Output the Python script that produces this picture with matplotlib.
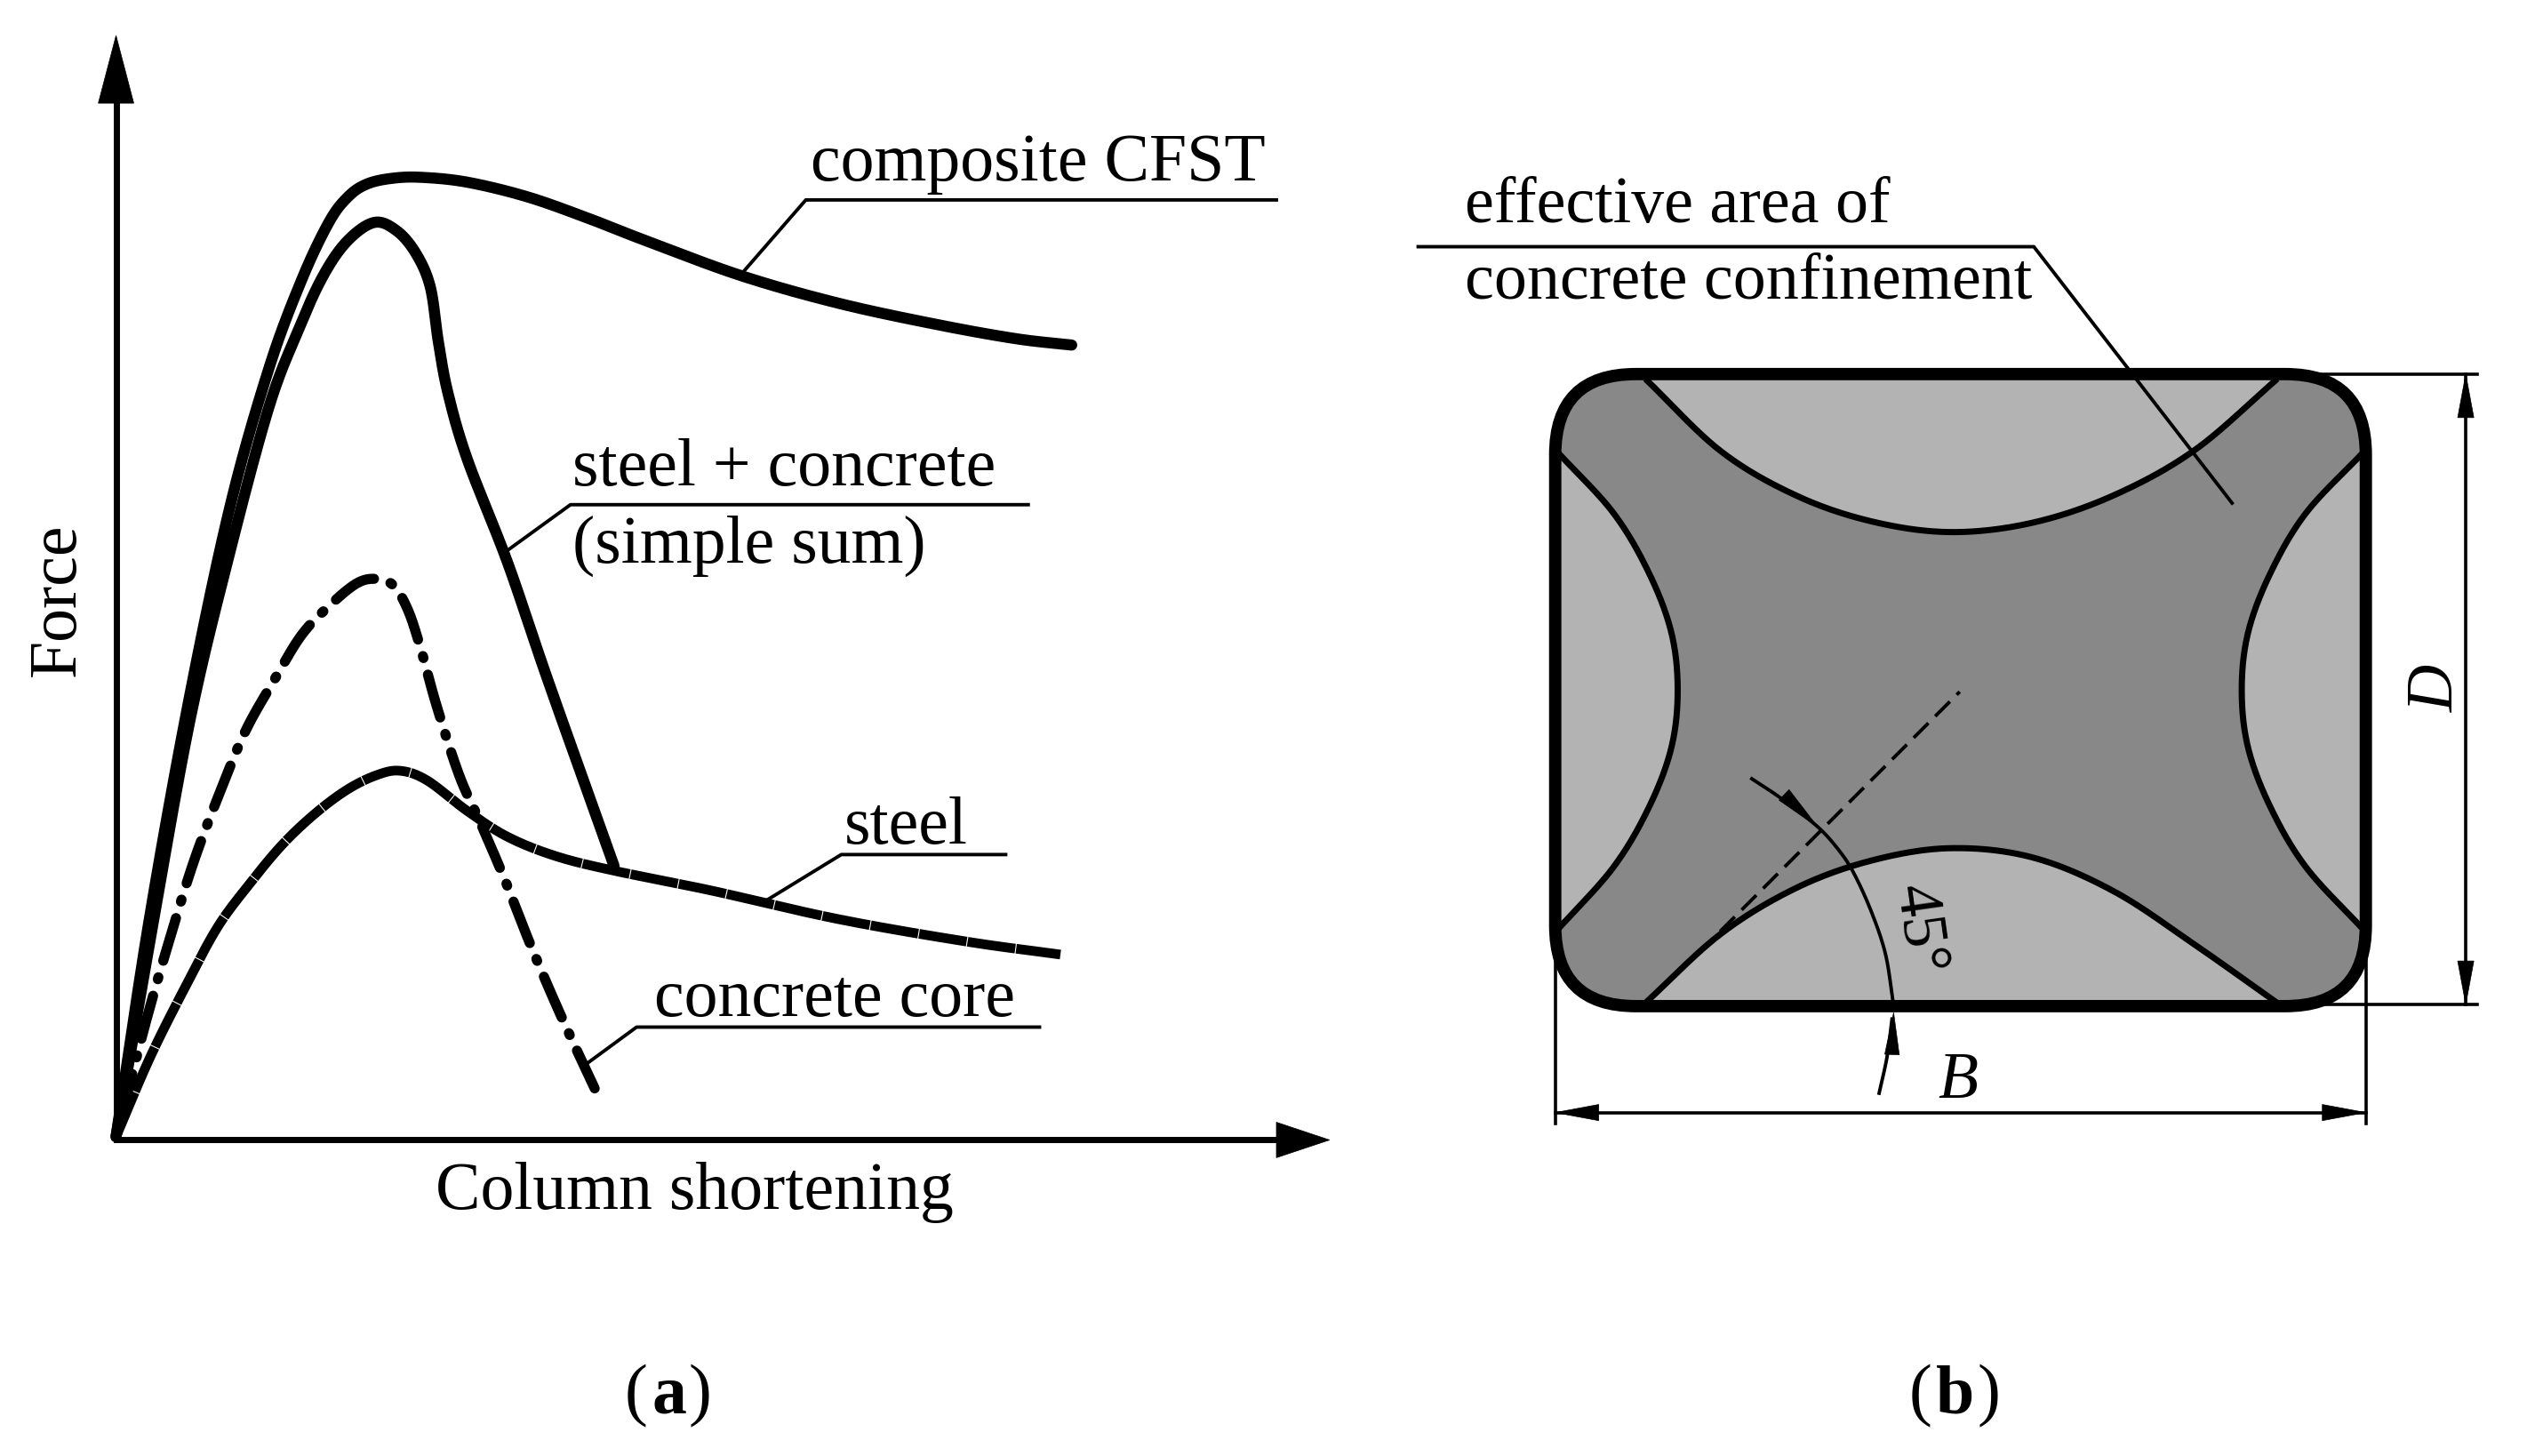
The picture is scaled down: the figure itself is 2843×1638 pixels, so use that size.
import matplotlib
matplotlib.use("Agg")
import matplotlib.pyplot as plt
from matplotlib.patches import FancyBboxPatch, Polygon
import numpy as np

SERIF = "Liberation Serif"

# --- Panel (a) curves (x, y in 1568x903 picture units)
composite_x = [72, 93, 118, 143, 167, 187, 204, 216, 228, 244, 262, 290, 327, 364, 400, 460, 520, 580, 630, 665]
composite_y = [705, 568, 430, 313, 228, 174, 138, 122, 114, 110.5, 110, 113, 122, 135, 149, 171, 188, 201, 210, 214]

sum_x = [72, 93, 118, 143, 167, 185, 200, 215, 232, 246, 258, 267, 272, 278, 290, 315, 340, 381]
sum_y = [705, 584, 446, 341, 252, 205, 172, 150, 138, 143, 157, 178, 212, 244, 285, 349, 422, 537]

core_x = [72, 91, 106, 120, 135, 152, 170, 187, 204, 221, 233, 244, 253, 261, 271, 285, 298, 313, 330, 349, 369]
core_y = [705, 632, 580, 535, 495, 454, 422, 394, 376, 362, 359, 363, 378, 402, 438, 481, 510, 545, 588, 632, 675]

steel_x = [72, 93, 115, 135, 155, 175, 195, 215, 233, 248, 265, 290, 315, 345, 381, 440, 520, 600, 658]
steel_y = [705, 656, 612, 575, 548, 524, 505, 490, 481, 478, 484, 503, 519, 531, 540, 552, 570, 584, 592]

# Leaders
lead_composite = ([460, 500, 792], [170, 124, 124])
lead_sum = ([314, 354, 638], [342, 313, 313])
lead_steel = ([473, 522, 624], [560, 530, 530])
lead_core = ([365, 395, 645], [659, 637, 637])
lead_area = ([1385, 1262, 880], [312, 153, 153])

# --- Panel (b) outlines
box_left, box_right, box_top, box_bottom = 965, 1468, 232, 624
box_radius = 50

top_x = [1021, 1068, 1116, 1164, 1212, 1262, 1312, 1362, 1413]
top_y = [235, 280, 308, 324, 330, 324, 307, 279, 235]
bot_x = [1021, 1068, 1116, 1164, 1212, 1262, 1312, 1362, 1413]
bot_y = [622, 579, 550, 533, 526, 532, 553, 586, 622]
left_x = [967, 1001, 1023, 1037, 1041, 1037, 1023, 1001, 967]
left_y = [281, 318, 355, 392, 428, 464, 501, 538, 576]
right_x = [1466, 1431, 1409, 1395, 1391, 1395, 1409, 1431, 1466]
right_y = [281, 318, 355, 392, 428, 464, 501, 538, 576]

dash_x = [1054, 1216]
dash_y = [591, 429]
angle_x = [1087, 1105, 1127, 1140, 1150, 1161, 1170, 1175]
angle_y = [483, 495, 512, 526, 541, 565, 592, 624]
angle_tail_x = [1166, 1171, 1174]
angle_tail_y = [678, 655, 632]

fig = plt.figure(figsize=(28.43, 16.38), dpi=100)
ax = fig.add_axes([0, 0, 1, 1])
ax.set_xlim(0, 1568)
ax.set_ylim(903, 0)
ax.axis("off")


def arrow(tip, base, half, color="k"):
    tip = np.array(tip, float)
    base = np.array(base, float)
    d = (tip - base) / np.hypot(*(tip - base))
    n = np.array([-d[1], d[0]])
    ax.add_patch(Polygon([tip, base + n * half, base - n * half], closed=True,
                         fc=color, ec=color, lw=0.5, zorder=6))


def smooth(xs, ys, n=24):
    p = np.column_stack([xs, ys]).astype(float)
    p = np.vstack([2 * p[0] - p[1], p, 2 * p[-1] - p[-2]])
    out = []
    for i in range(1, len(p) - 2):
        for t in np.linspace(0, 1, n, endpoint=False):
            a, b, c, d = p[i - 1], p[i], p[i + 1], p[i + 2]
            out.append(0.5 * (2 * b + (c - a) * t + (2 * a - 5 * b + 4 * c - d) * t**2
                              + (3 * b - a - 3 * c + d) * t**3))
    out.append(p[-2])
    out = np.array(out)
    return out[:, 0], out[:, 1]


# Axes of panel (a)
ax.plot([72, 72], [707, 55], color="k", lw=5.0, zorder=3)
ax.plot([72, 800], [707, 707], color="k", lw=5.0, zorder=3)
arrow((72, 22), (72, 64), 11)
arrow((825, 707), (792, 707), 11)

# Curves
ax.plot(*smooth(composite_x, composite_y), color="k", lw=9.0, solid_capstyle="round", zorder=4)
ax.plot(*smooth(sum_x, sum_y), color="k", lw=9.0, solid_capstyle="round", zorder=4)
ax.plot(*smooth(steel_x, steel_y), color="k", lw=7.8, linestyle=(0, (5.0, 0.1)),
        dash_capstyle="butt", zorder=4)
ax.plot(*smooth(core_x, core_y), color="k", lw=8.2, linestyle=(6.0, (4.4, 1.7, 0.2, 1.7)),
        dash_capstyle="round", zorder=4)

for lx, ly in (lead_composite, lead_sum, lead_steel, lead_core):
    ax.plot(lx, ly, color="k", lw=2.8, zorder=3)

TXT = dict(family=SERIF, size=54.5, color="k", va="baseline")
ax.text(503, 112, "composite CFST", **TXT)
ax.text(355, 301, "steel + concrete", **TXT)
ax.text(355, 349, "(simple sum)", **TXT)
ax.text(524, 523, "steel", **TXT)
ax.text(406, 630, "concrete core", **TXT)
ax.text(270, 750, "Column shortening", **TXT)
ax.text(46, 372, "Force", rotation=90, rotation_mode="anchor", ha="center", **TXT)

# Panel (b)
ax.add_patch(FancyBboxPatch((box_left, box_top), box_right - box_left, box_bottom - box_top,
                            boxstyle=f"round,pad=0,rounding_size={box_radius}",
                            fc="#888888", ec="none", zorder=1))
for xs, ys in ((top_x, top_y), (bot_x, bot_y), (left_x, left_y), (right_x, right_y)):
    sx, sy = smooth(xs, ys)
    ax.fill(sx, sy, color="#b3b3b3", lw=0, zorder=2)
    ax.plot(sx, sy, color="k", lw=5.0, zorder=3, solid_capstyle="butt")
ax.add_patch(FancyBboxPatch((box_left, box_top), box_right - box_left, box_bottom - box_top,
                            boxstyle=f"round,pad=0,rounding_size={box_radius}",
                            fc="none", ec="k", lw=10.0, zorder=5))

ax.plot(dash_x, dash_y, color="k", lw=2.8, linestyle=(0, (6.0, 2.8)), zorder=4)
ax.plot(*smooth(angle_x, angle_y), color="k", lw=2.8, zorder=4)
ax.plot(*smooth(angle_tail_x, angle_tail_y), color="k", lw=2.8, zorder=4)
arrow((1128, 513), (1107, 493), 4.5)
arrow((1175, 628), (1174, 654), 4.5)

ax.plot(*lead_area, color="k", lw=2.8, zorder=4)

# Dimension lines
ax.plot([965, 965], [575, 697], color="k", lw=2.6)
ax.plot([1468, 1468], [575, 697], color="k", lw=2.6)
ax.plot([965, 1468], [690, 690], color="k", lw=2.6)
arrow((965, 690), (992, 690), 5)
arrow((1468, 690), (1441, 690), 5)
ax.plot([1435, 1537], [232, 232], color="k", lw=2.6)
ax.plot([1435, 1537], [623, 623], color="k", lw=2.6)
ax.plot([1530, 1530], [232, 623], color="k", lw=2.6)
arrow((1530, 232), (1530, 259), 5)
arrow((1530, 623), (1530, 596), 5)

TXT_B = dict(TXT, size=53.2)
ax.text(909, 138, "effective area of", **TXT_B)
ax.text(909, 185, "concrete confinement", **TXT_B)
ax.text(1215, 681, "B", family=SERIF, size=53, style="italic", ha="center", va="baseline")
ax.text(1522, 427, "D", family=SERIF, size=53, style="italic", rotation=90,
        rotation_mode="anchor", ha="center", va="baseline")
ax.text(1181, 578, "45°", family=SERIF, size=52, rotation=-82, rotation_mode="anchor",
        ha="center", va="baseline")

# Panel labels
for cx, letter in ((415, "a"), (1213, "b")):
    ax.text(cx, 876, letter, family=SERIF, size=56, weight="bold", ha="center", va="baseline")
    ax.text(cx - (13 if letter == "a" else 14), 876, "(", family=SERIF, size=56, ha="right", va="baseline")
    ax.text(cx + (12 if letter == "a" else 14), 876, ")", family=SERIF, size=56, ha="left", va="baseline")

fig.savefig("out.png", dpi=100, facecolor="white")
